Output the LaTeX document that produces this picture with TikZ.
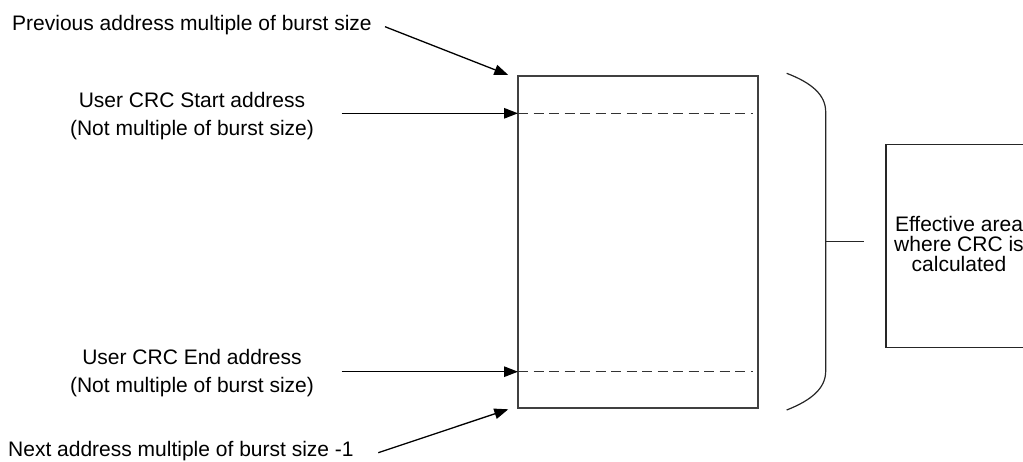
\documentclass[tikz,border=0pt]{standalone}
\usepackage{fontspec}
\setmainfont{Liberation Sans}
\usetikzlibrary{arrows.meta}

\begin{document}
\begin{tikzpicture}[x=1pt,y=-1pt,
  lbl/.style={inner sep=0pt, align=center, font=\fontsize{21}{27.5}\selectfont},
  conn/.style={line width=1.3pt, -{Triangle[length=14pt,width=10.5pt]}},
  boxline/.style={draw=black!75, line width=1.6pt},
  dashline/.style={draw=black!80, line width=1.5pt, dash pattern=on 10pt off 5.5pt}]
\useasboundingbox (0,0) rectangle (1023,461);

% memory region
\node[boxline, inner sep=0pt, minimum width=240pt, minimum height=332pt] (mem) at (638,241.7) {};

% start / end address markers inside the region
\coordinate (startL) at (518,113.3);
\coordinate (startR) at (752.7,113.3);
\coordinate (endL)   at (518,371.7);
\coordinate (endR)   at (752.7,371.7);
\draw[dashline] (startL) -- (startR);
\draw[dashline] (endL) -- (endR);

% labels
\node[lbl, anchor=base west] (prev) at (12,30) {Previous address multiple of burst size};
\node[lbl, anchor=north] (startlbl) at (192,92.5) {User CRC Start address\\(Not multiple of burst size)};
\node[lbl, anchor=north] (endlbl) at (192,349.5) {User CRC End address\\(Not multiple of burst size)};
\node[lbl, anchor=base west] (next) at (8,456) {Next address multiple of burst size -1};

% connector ends
\coordinate (prevS) at (385,26.7);
\coordinate (prevT) at (508.3,75);
\coordinate (startS) at (341.7,113.3);
\coordinate (endS) at (341.7,371.7);
\coordinate (nextS) at (378.3,452.7);
\coordinate (nextT) at (508.3,409.3);

\draw[conn] (prevS) -- (prevT);
\draw[conn] (startS) -- (startL);
\draw[conn] (endS) -- (endL);
\draw[conn] (nextS) -- (nextT);

% brace grouping the region
\coordinate (brTop) at (786.7,73.3);
\coordinate (brBot) at (786.7,410);
\coordinate (brMid) at (825.7,241.7);
\coordinate (brTip) at (864.3,241.7);
\draw[line width=1.2pt, black!85] (brTop) .. controls (812,83) and (825.7,95) .. (825.7,112)
  -- (825.7,371) .. controls (825.7,388) and (812,400) .. (brBot);
\draw[line width=1.2pt, black!85] (brMid) -- (brTip);

% effective area box
\node[boxline, draw=black!85, line width=1.3pt, inner sep=0pt, minimum width=146pt, minimum height=203pt] (eff) at (959,245.8) {};
\node[lbl, font=\fontsize{21}{20}\selectfont] (efftxt) at (959,244) {Effective area\\where CRC is\\calculated};
\end{tikzpicture}
\end{document}
